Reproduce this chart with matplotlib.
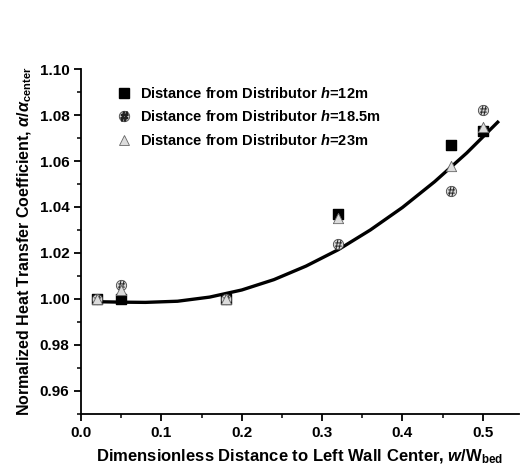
import matplotlib
matplotlib.use("Agg")
import matplotlib.pyplot as plt
from matplotlib.ticker import MultipleLocator, FormatStrFormatter
from matplotlib.lines import Line2D

plt.rcParams['font.family'] = ['Liberation Sans', 'DejaVu Sans']
plt.rcParams['font.weight'] = 'bold'
plt.rcParams['mathtext.fontset'] = 'custom'
plt.rcParams['mathtext.rm'] = 'Liberation Sans:bold'
plt.rcParams['mathtext.it'] = 'Liberation Sans:italic:bold'
plt.rcParams['mathtext.bf'] = 'Liberation Sans:bold'

# data
x_pos = [0.02, 0.05, 0.18, 0.32, 0.46, 0.50]
h12 = [1.000, 1.000, 1.000, 1.037, 1.067, 1.073]
h185 = [1.000, 1.006, 1.000, 1.024, 1.047, 1.082]
h23 = [1.000, 1.004, 1.000, 1.035, 1.058, 1.075]

curve_x = [0.02, 0.05, 0.08, 0.12, 0.16, 0.20, 0.24, 0.28, 0.32, 0.36, 0.40, 0.44, 0.48, 0.52]
curve_y = [0.9988, 0.9986, 0.9985, 0.9990, 1.0008, 1.0039, 1.0084, 1.0143, 1.0214,
           1.0300, 1.0398, 1.0510, 1.0635, 1.0774]

x_ticks = [0.0, 0.1, 0.2, 0.3, 0.4, 0.5]
y_ticks = [0.96, 0.98, 1.00, 1.02, 1.04, 1.06, 1.08, 1.10]

labels = [r"Distance from Distributor $h$=12m",
          r"Distance from Distributor $h$=18.5m",
          r"Distance from Distributor $h$=23m"]

fig = plt.figure(figsize=(5.2, 4.73), dpi=100)
ax = fig.add_axes([0.156, 0.125, 0.842, 0.729])

ax.plot(curve_x, curve_y, color='black', lw=2.4, solid_capstyle='butt', zorder=2)

ax.scatter(x_pos, h12, marker='s', s=55, color='black', zorder=3)
ax.scatter(x_pos, h185, marker='o', s=55, facecolor='#d8d8d8', edgecolor='#444444',
           linewidths=0.6, zorder=4)
ax.scatter(x_pos, h185, marker=r'$\#$', s=45, color='#222222', linewidths=0, zorder=4.5)
ax.scatter(x_pos, h23, marker='^', s=55, facecolor='#dcdcdc', edgecolor='#666666',
           linewidths=0.6, zorder=5)

# legend proxies
h1 = Line2D([], [], marker='s', ls='none', ms=7.5, color='black')
h2a = Line2D([], [], marker='o', ls='none', ms=7.5, markerfacecolor='#d8d8d8',
             markeredgecolor='#444444', markeredgewidth=0.6)
h2b = Line2D([], [], marker=r'$\#$', ls='none', ms=6.5, color='#222222')
h3 = Line2D([], [], marker='^', ls='none', ms=7.5, markerfacecolor='#dcdcdc',
            markeredgecolor='#666666', markeredgewidth=0.6)
leg = ax.legend([h1, (h2a, h2b), h3], labels, loc='upper left',
                bbox_to_anchor=(0.068, 0.968), frameon=False, fontsize=10.5,
                handlelength=1.0, handletextpad=0.6, labelspacing=0.58,
                borderaxespad=0)

ax.set_xlim(0, 0.545)
ax.set_ylim(0.95, 1.10)
ax.set_xticks(x_ticks)
ax.set_yticks(y_ticks)
ax.xaxis.set_minor_locator(MultipleLocator(0.05))
ax.yaxis.set_minor_locator(MultipleLocator(0.01))
ax.xaxis.set_major_formatter(FormatStrFormatter('%.1f'))
ax.yaxis.set_major_formatter(FormatStrFormatter('%.2f'))
ax.spines['top'].set_visible(False)
ax.spines['right'].set_visible(False)
for s in ['left', 'bottom']:
    ax.spines[s].set_linewidth(1.3)
ax.tick_params(which='major', direction='out', length=5, width=1.3, labelsize=11)
ax.tick_params(which='minor', direction='out', length=3, width=1.1)
for lab in ax.get_xticklabels() + ax.get_yticklabels():
    lab.set_fontweight('bold')

ax.set_xlabel(r"Dimensionless Distance to Left Wall Center, $w$/W$_{\rm bed}$",
              fontsize=12, fontweight='bold', labelpad=6)
ax.set_ylabel(r"Normalized Heat Transfer Coefficient, $\alpha$/$\alpha_{\rm center}$",
              fontsize=11.5, fontweight='bold', labelpad=4)

fig.savefig("out.png", dpi=100)
